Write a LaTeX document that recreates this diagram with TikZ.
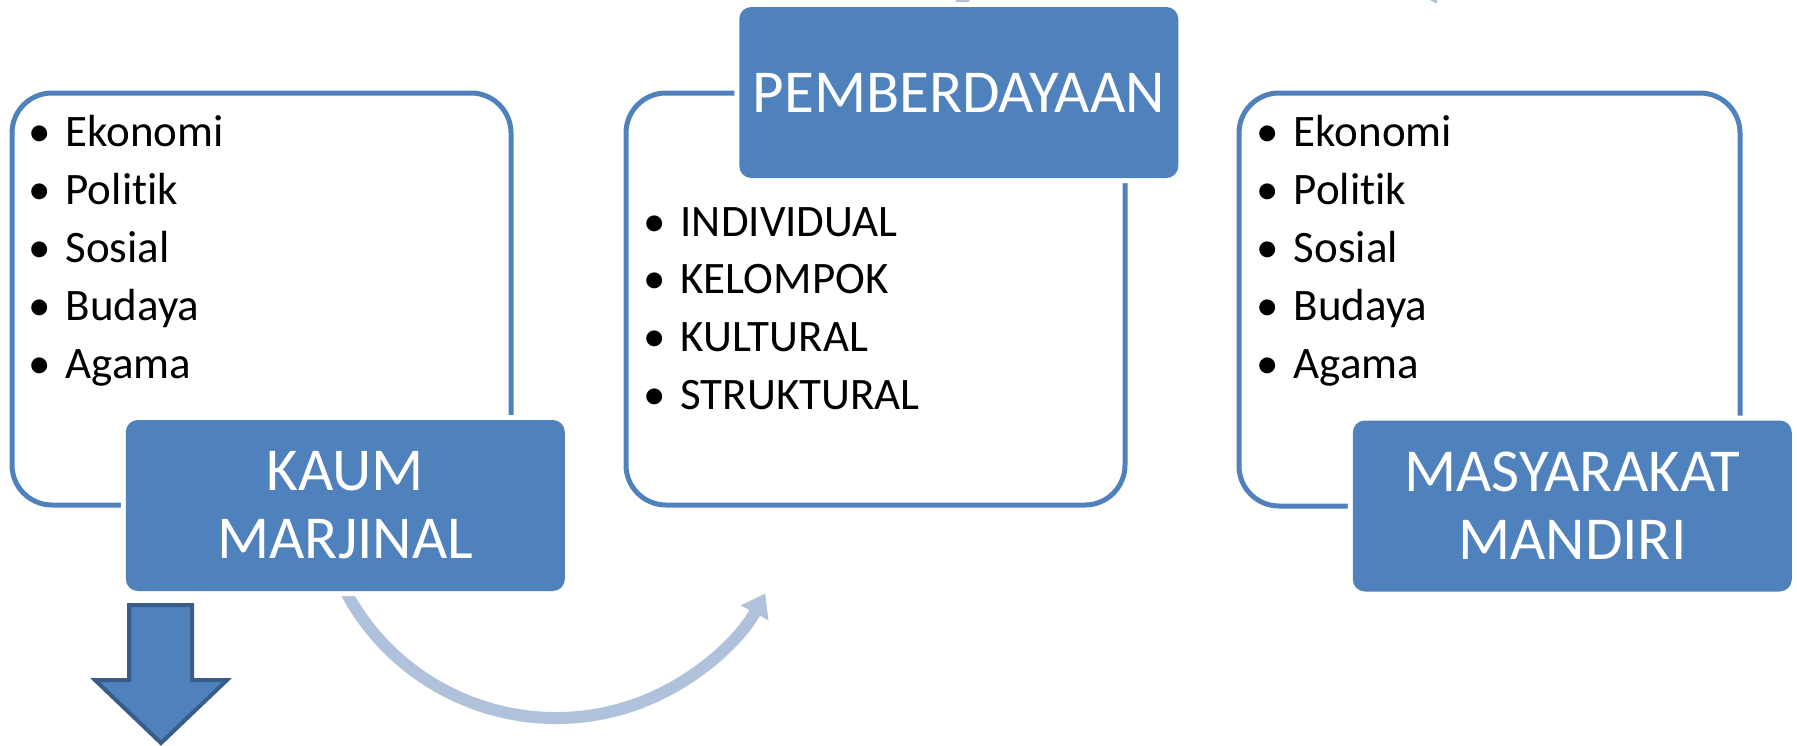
\documentclass[tikz,border=0pt]{standalone}
\usepackage{fontspec}
\setmainfont{Carlito}[Ligatures=NoCommon]
\usetikzlibrary{arrows.meta}
\definecolor{accent}{RGB}{79,129,189}
\definecolor{lightarc}{RGB}{176,193,220}
\definecolor{darkedge}{RGB}{56,93,138}
\begin{document}
\begin{tikzpicture}[x=1pt,y=-1pt,
  outline/.style={draw=accent, line width=5pt, rounded corners=40pt},
  headbox/.style={fill=accent, text=white, rounded corners=12pt,
    preaction={draw=white, line width=10pt}, align=center,
    minimum width=439pt, minimum height=171pt,
    font=\fontsize{61}{68}\selectfont, inner sep=0pt},
  item/.style={anchor=base west, inner sep=0pt, font=\fontsize{45}{53}\selectfont},
  flow/.style={draw=lightarc, line width=12pt, -{Triangle[width=30pt,length=22pt]}},
  bigarrow/.style={fill=accent, draw=darkedge, line width=4pt, line join=miter}]
\useasboundingbox (0,0) rectangle (1797,745);
\clip (0,0) rectangle (1797,745);

% outline panels
\draw[outline] (12,93) rectangle (511,505);
\draw[outline] (626,93) rectangle (1125,505);
\draw[outline] (1239,93) rectangle (1740,506);

% curved connectors
\coordinate (a1s) at ([shift={(155:238)}]556,480);
\coordinate (a1e) at ([shift={(28.5:238)}]556,480);
\draw[flow] (a1s) arc[start angle=155, end angle=28.5, radius=238];
\coordinate (a2s) at ([shift={(-155:267)}]1199,125);
\coordinate (a2e) at ([shift={(-27:267)}]1199,125);
\draw[flow] (a2s) arc[start angle=-155, end angle=-27, radius=267];

% heading boxes
\node[headbox] (kaum) at (345.3,505.5) {KAUM\\MARJINAL};
\node[headbox] (pemb) at (958.8,92.5) {PEMBERDAYAAN};
\node[headbox] (masy) at (1572.3,506) {MASYARAKAT\\MANDIRI};

% bullet lists
\foreach \t [count=\i] in {Ekonomi,Politik,Sosial,Budaya,Agama}
  \node[item] (L\i) at (65.4,{146.7+58*(\i-1)}) {\llap{•\hspace{15pt}}\t};
\foreach \t [count=\i] in {INDIVIDUAL,KELOMPOK,KULTURAL,STRUKTURAL}
  \node[item] (M\i) at (680.4,{236+57.7*(\i-1)}) {\llap{•\hspace{15pt}}\t};
\foreach \t [count=\i] in {Ekonomi,Politik,Sosial,Budaya,Agama}
  \node[item] (R\i) at (1293.6,{146.7+58*(\i-1)}) {\llap{•\hspace{15pt}}\t};

% down arrow
\draw[bigarrow] (129,605) -- (192,605) -- (192,680) -- (227,680) -- (161,743)
  -- (95,680) -- (129,680) -- cycle;
\end{tikzpicture}
\end{document}
